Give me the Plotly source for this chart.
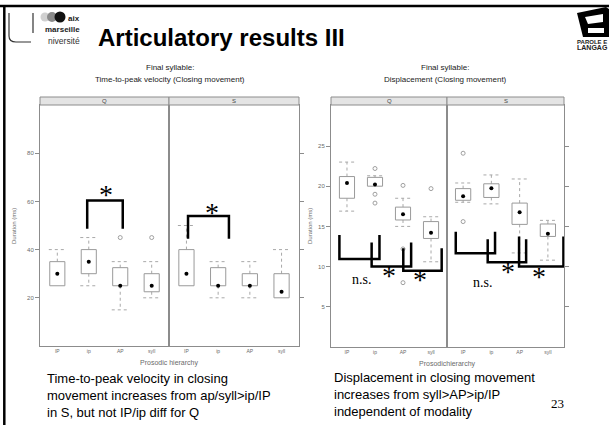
import plotly.graph_objects as go

W, H = 609, 425

cats = ["IP", "ip", "AP", "syll"]
groups = ["Q", "S"]

# Left chart: time-to-peak velocity (ms), closing movement, final syllable
tpv_Q_low = [25, 25, 15, 20]
tpv_Q_q1 = [25, 30, 25, 22.5]
tpv_Q_med = [30, 35, 25, 25]
tpv_Q_q3 = [35, 40, 32.5, 30]
tpv_Q_high = [40, 45, 35, 35]
tpv_Q_out = [[], [], [45], [45]]

tpv_S_low = [25, 20, 20, 20]
tpv_S_q1 = [25, 25, 25, 20]
tpv_S_med = [30, 25, 25, 22.5]
tpv_S_q3 = [40, 32.5, 30, 30]
tpv_S_high = [50, 35, 35, 40]
tpv_S_out = [[], [], [], []]

# Right chart: displacement, closing movement, final syllable
disp_Q_low = [16.9, 20.0, 15.0, 10.6]
disp_Q_q1 = [18.5, 20.0, 15.8, 13.5]
disp_Q_med = [20.4, 20.2, 16.5, 14.2]
disp_Q_q3 = [21.2, 21.1, 17.4, 15.6]
disp_Q_high = [23.0, 21.3, 18.5, 16.2]
disp_Q_out = [[], [22.2, 19.0, 17.9], [20.1, 12.2, 8.0], [19.7]]

disp_S_low = [18.0, 17.8, 11.7, 10.8]
disp_S_q1 = [18.25, 18.6, 15.25, 13.75]
disp_S_med = [18.75, 19.75, 16.75, 14.1]
disp_S_q3 = [19.7, 20.3, 17.9, 15.3]
disp_S_high = [20.4, 21.4, 20.9, 15.75]
disp_S_out = [[24.1, 15.6], [], [], []]

tpv_ticks = [20, 40, 60, 80]
disp_ticks = [5, 10, 15, 20, 25]

GREY = "#9a9a9a"
FRAME = "#8c8c8c"
TICKC = "#6a6a6a"


def px(x):
    return x / W


def py(y):
    return 1 - y / H


fig = go.Figure()


def add_boxes(xa, ya, low, q1, med, q3, high, outs, hw, cw):
    bx, by, wx, wy = [], [], [], []
    ox, oy = [], []
    for i in range(len(cats)):
        c = i + 1
        bx += [c - hw, c + hw, c + hw, c - hw, c - hw, None]
        by += [q1[i], q1[i], q3[i], q3[i], q1[i], None]
        if high[i] > q3[i]:
            wx += [c, c, None, c - cw, c + cw, None]
            wy += [q3[i], high[i], None, high[i], high[i], None]
        if low[i] < q1[i]:
            wx += [c, c, None, c - cw, c + cw, None]
            wy += [q1[i], low[i], None, low[i], low[i], None]
        for v in outs[i]:
            ox.append(c)
            oy.append(v)
    fig.add_trace(go.Scatter(x=wx, y=wy, xaxis=xa, yaxis=ya, mode="lines",
                             line=dict(color="#a8a8a8", width=1, dash="dot"),
                             hoverinfo="skip", showlegend=False))
    fig.add_trace(go.Scatter(x=bx, y=by, xaxis=xa, yaxis=ya, mode="lines",
                             line=dict(color=GREY, width=1),
                             hoverinfo="skip", showlegend=False))
    fig.add_trace(go.Scatter(x=[i + 1 for i in range(len(cats))], y=med,
                             xaxis=xa, yaxis=ya, mode="markers",
                             marker=dict(color="black", size=4),
                             showlegend=False))
    if ox:
        fig.add_trace(go.Scatter(x=ox, y=oy, xaxis=xa, yaxis=ya, mode="markers",
                                 marker=dict(color="rgba(0,0,0,0)", size=4,
                                             line=dict(color="#a0a0a0", width=1)),
                                 showlegend=False))


add_boxes("x", "y", tpv_Q_low, tpv_Q_q1, tpv_Q_med, tpv_Q_q3, tpv_Q_high, tpv_Q_out, 0.24, 0.27)
add_boxes("x2", "y2", tpv_S_low, tpv_S_q1, tpv_S_med, tpv_S_q3, tpv_S_high, tpv_S_out, 0.24, 0.27)
add_boxes("x3", "y3", disp_Q_low, disp_Q_q1, disp_Q_med, disp_Q_q3, disp_Q_high, disp_Q_out, 0.27, 0.28)
add_boxes("x4", "y4", disp_S_low, disp_S_q1, disp_S_med, disp_S_q3, disp_S_high, disp_S_out, 0.27, 0.28)

xcommon = dict(tickvals=[1, 2, 3, 4], ticktext=cats, showline=True, mirror=True,
               linecolor=FRAME, linewidth=1, showgrid=False, zeroline=False,
               ticks="", tickfont=dict(size=5, color=TICKC))
ycommon = dict(showline=True, mirror=True, linecolor=FRAME, linewidth=1,
               showgrid=False, zeroline=False, ticks="outside", ticklen=4,
               tickcolor=FRAME, tickfont=dict(size=6, color=TICKC))

ydomL = [py(346), py(105)]
ydomR = [py(347), py(105)]

fig.update_layout(
    width=W, height=H, margin=dict(l=0, r=0, t=0, b=0),
    paper_bgcolor="white", plot_bgcolor="white",
    font=dict(family="Liberation Sans", color="black"),
    showlegend=False,
    xaxis=dict(domain=[px(40), px(169)], range=[0.45, 4.55], anchor="y", **xcommon),
    xaxis2=dict(domain=[px(169), px(299)], range=[0.45, 4.55], anchor="y2", **xcommon),
    xaxis3=dict(domain=[px(331), px(447)], range=[0.43, 4.57], anchor="y3", **xcommon),
    xaxis4=dict(domain=[px(447), px(564)], range=[0.43, 4.57], anchor="y4", **xcommon),
    yaxis=dict(domain=ydomL, range=[0, 100], anchor="x", side="left",
               tickvals=tpv_ticks, **ycommon),
    yaxis2=dict(domain=ydomL, range=[0, 100], anchor="x2", side="right",
                tickvals=tpv_ticks, showticklabels=False, **ycommon),
    yaxis3=dict(domain=ydomR, range=[0, 30.1], anchor="x3", side="left",
                tickvals=disp_ticks, **ycommon),
    yaxis4=dict(domain=ydomR, range=[0, 30.1], anchor="x4", side="right",
                tickvals=disp_ticks, showticklabels=False, **ycommon),
)

shapes = []
ann = []

# slide border
shapes.append(dict(type="line", xref="paper", yref="paper", x0=0, x1=1,
                   y0=py(6), y1=py(6), line=dict(color="black", width=2.5)))
shapes.append(dict(type="line", xref="paper", yref="paper", x0=px(4.3), x1=px(4.3),
                   y0=py(6), y1=0, line=dict(color="black", width=2.5)))

# strips
for (x0, x1, lab) in [(40, 169, "Q"), (169, 299, "S"), (331, 447, "Q"), (447, 564, "S")]:
    shapes.append(dict(type="rect", xref="paper", yref="paper", x0=px(x0), x1=px(x1),
                       y0=py(105), y1=py(97), fillcolor="#e4e4e4",
                       line=dict(color=FRAME, width=1), layer="above"))
    ann.append(dict(x=px((x0 + x1) / 2), y=py(101), xref="paper", yref="paper",
                    text=lab, showarrow=False, font=dict(size=6, color="#444"),
                    xanchor="center", yanchor="middle"))

BR = dict(color="black", width=2.5)


def bracket_up(xref, yref, xa, xb, ybot, ytop):
    shapes.append(dict(type="path", xref=xref, yref=yref,
                       path=f"M {xa},{ybot} L {xa},{ytop} L {xb},{ytop} L {xb},{ybot}",
                       line=BR))


def bracket_down(xref, yref, xa, xb, ytop, ybot):
    shapes.append(dict(type="path", xref=xref, yref=yref,
                       path=f"M {xa},{ytop} L {xa},{ybot} L {xb},{ybot} L {xb},{ytop}",
                       line=BR))


def star(xref, yref, x, y):
    ann.append(dict(x=x, y=y, xref=xref, yref=yref, text="*", showarrow=False,
                    font=dict(family="Liberation Serif", size=28, color="black"),
                    xanchor="center", yanchor="middle"))


def ns(xref, yref, x, y):
    ann.append(dict(x=x, y=y, xref=xref, yref=yref, text="n.s.", showarrow=False,
                    font=dict(family="Liberation Serif", size=14, color="black"),
                    xanchor="center", yanchor="middle"))


# left chart significance
bracket_up("x", "y", 1.95, 3.08, 48.6, 60.4)
star("x", "y", 2.55, 63.0)
bracket_up("x2", "y2", 1.05, 2.34, 44.5, 53.9)
star("x2", "y2", 1.82, 55.5)

# right chart significance (Q)
bracket_down("x3", "y3", 0.73, 2.16, 13.94, 10.96)
bracket_down("x3", "y3", 1.88, 3.29, 12.99, 10.0)
bracket_down("x3", "y3", 3.01, 4.38, 12.29, 9.47)
ns("x3", "y3", 1.53, 8.35)
star("x3", "y3", 2.50, 8.9)
star("x3", "y3", 3.61, 8.4)
# right chart significance (S)
bracket_down("x4", "y4", 0.74, 2.13, 14.35, 11.67)
bracket_down("x4", "y4", 1.87, 3.23, 13.41, 10.55)
bracket_down("x4", "y4", 2.98, 4.55, 13.73, 10.0)
ns("x4", "y4", 1.70, 8.02)
star("x4", "y4", 2.59, 9.4)
star("x4", "y4", 3.67, 8.8)


def txt(x, y, s, size, xanchor="center", color="black", family="Liberation Sans",
        angle=0, align="center"):
    ann.append(dict(x=px(x), y=py(y), xref="paper", yref="paper", text=s,
                    showarrow=False, textangle=angle, align=align,
                    font=dict(size=size, color=color, family=family),
                    xanchor=xanchor, yanchor="middle"))


# title
txt(96, 38, "<b>Articulatory results III</b>", 24, xanchor="left")

# chart subtitles
txt(170, 67, "Final syllable:", 8, color="#222")
txt(170, 79, "Time-to-peak velocity (Closing movement)", 8, color="#222")
txt(445, 67, "Final syllable:", 8, color="#222")
txt(445, 79, "Displacement (Closing movement)", 8, color="#222")

# axis titles
txt(14, 226, "Duration (ms)", 6, color=TICKC, angle=-90)
txt(310, 226, "Duration (ms)", 6, color=TICKC, angle=-90)
txt(169, 363, "Prosodic hierarchy", 7, color=TICKC)
txt(447, 364, "Prosodichierarchy", 7, color=TICKC)

# captions
txt(45, 395, "Time-to-peak velocity in closing<br>movement increases from ap/syll&gt;ip/IP<br>in S, but not IP/ip diff for Q",
    13, xanchor="left", align="left")
txt(332, 394, "Displacement in closing movement<br>increases from syll&gt;AP&gt;ip/IP<br>independent of modality",
    13, xanchor="left", align="left")
txt(557, 403, "23", 13, family="Liberation Serif")

# left logo (Aix-Marseille Université)
shapes.append(dict(type="path", xref="paper", yref="paper",
                   path=f"M {px(9)},{py(13)} L {px(9)},{py(36)} Q {px(9)},{py(42)} {px(16)},{py(42)} L {px(31)},{py(42)}",
                   line=dict(color="#333", width=1.2)))
shapes.append(dict(type="line", xref="paper", yref="paper", x0=px(33), x1=px(33),
                   y0=py(13), y1=py(33), line=dict(color="#333", width=1.2)))
for (cx, r, col) in [(45, 4.5, "#d0d0d0"), (52, 5, "#8a8a8a"), (60, 5.5, "#111")]:
    shapes.append(dict(type="circle", xref="paper", yref="paper",
                       x0=px(cx - r), x1=px(cx + r), y0=py(17 + r), y1=py(17 - r),
                       fillcolor=col, line=dict(width=0)))
txt(66, 18, "<b>aix</b>", 8, xanchor="left", color="#222")
txt(82, 29, "<b>marseille</b>", 8, xanchor="right", color="#222")
txt(82, 41, "niversité", 8.5, xanchor="right", color="#333")

# right logo (Parole et Langage)
shapes.append(dict(type="path", xref="paper", yref="paper",
                   path=f"M {px(577)},{py(13)} L {px(606)},{py(7)} L {px(609)},{py(9)} L {px(609)},{py(37)} L {px(583)},{py(37)} Z",
                   fillcolor="black", line=dict(width=0)))
shapes.append(dict(type="path", xref="paper", yref="paper",
                   path=f"M {px(585)},{py(17)} L {px(603)},{py(14)} L {px(603)},{py(22)} L {px(588)},{py(24)} Z",
                   fillcolor="white", line=dict(width=0)))
shapes.append(dict(type="rect", xref="paper", yref="paper",
                   x0=px(588), x1=px(604), y0=py(33), y1=py(28),
                   fillcolor="white", line=dict(width=0)))
txt(575, 42, "<b>PAROLE E</b>", 6, xanchor="left", color="#222")
txt(575, 48, "<b>LANGAG</b>", 7, xanchor="left", color="#222")

fig.update_layout(shapes=shapes, annotations=ann)

fig.write_html("out.html")
